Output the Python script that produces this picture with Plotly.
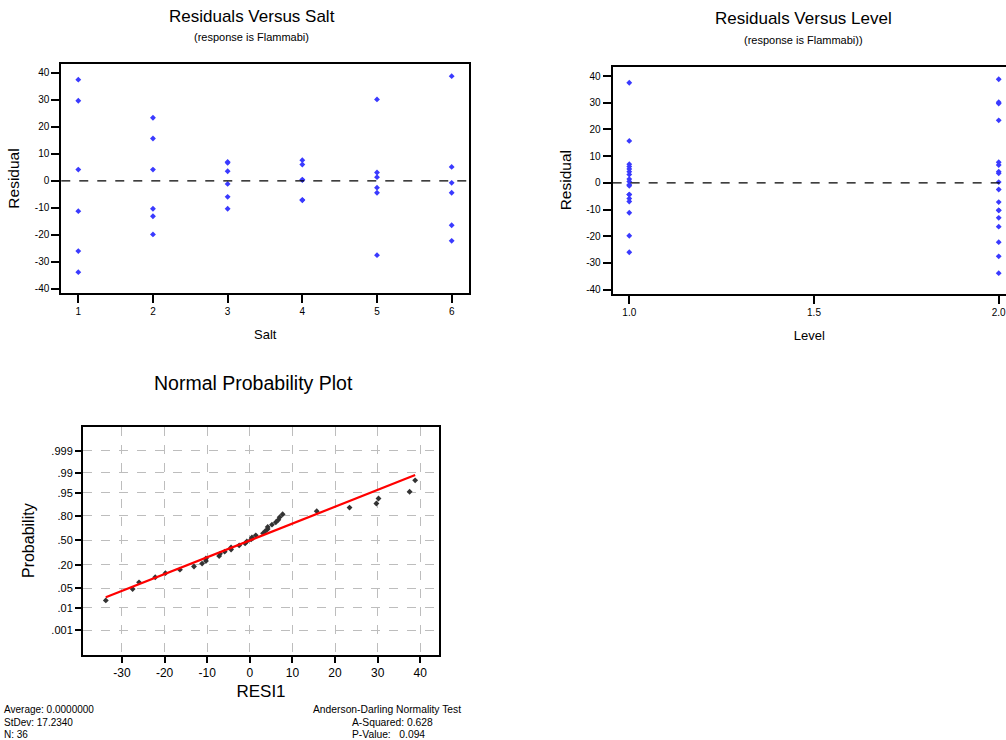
from statistics import NormalDist

import plotly.graph_objects as go

# Residuals of the Flammability model (Salt + Level), 3 replicates per cell
salt = [1, 1, 1, 1, 1, 1,
        2, 2, 2, 2, 2, 2,
        3, 3, 3, 3, 3, 3,
        4, 4, 4, 4, 4, 4,
        5, 5, 5, 5, 5, 5,
        6, 6, 6, 6, 6, 6]
level = [1, 1, 1, 2, 2, 2] * 6
resid = [37.5, -11.2, -26.0, 29.7, 4.2, -33.8,
         15.7, 4.2, -19.8, 23.4, -10.3, -13.1,
         7.0, -1.1, -5.9, 6.7, 3.6, -10.3,
         6.1, 0.5, -7.0, 7.7, 0.3, -7.2,
         3.1, 1.4, -4.4, 30.2, -2.5, -27.5,
         5.2, -0.7, -4.4, 38.8, -16.4, -22.2]

# Summary statistics printed under the probability plot
avg_val = 0.0
sd_val = 17.2340
n_val = 36
a_sq = 0.628
p_val = 0.094

prob_ticks = [0.001, 0.01, 0.05, 0.20, 0.50, 0.80, 0.95, 0.99, 0.999]
prob_labels = [".001", ".01", ".05", ".20", ".50", ".80", ".95", ".99", ".999"]
resid_ticks = [-40, -30, -20, -10, 0, 10, 20, 30, 40]
resi1_ticks = [-30, -20, -10, 0, 10, 20, 30, 40]

FONT = "Liberation Sans, Arial, sans-serif"
BLUE = "#3a3aff"
nd = NormalDist()

# Normal scores using median-rank plotting positions
sorted_res = sorted(resid)
n = len(sorted_res)
z_scores = [nd.inv_cdf((i + 1 - 0.3) / (n + 0.4)) for i in range(n)]
line_x = [sorted_res[0], sorted_res[-1]]
line_z = [(v - avg_val) / sd_val for v in line_x]


def hyphen_labels(vals):
    # plain hyphen for negatives, as in the original output
    return [str(v) for v in vals]


fig = go.Figure()

marker_blue = dict(symbol="diamond", size=4.5, color=BLUE, line=dict(width=0))

fig.add_trace(go.Scatter(x=salt, y=resid, mode="markers", marker=marker_blue,
                         xaxis="x", yaxis="y", showlegend=False))
fig.add_trace(go.Scatter(x=level, y=resid, mode="markers", marker=marker_blue,
                         xaxis="x2", yaxis="y2", showlegend=False))
fig.add_trace(go.Scatter(x=sorted_res, y=z_scores, mode="markers",
                         marker=dict(symbol="diamond", size=4.5, color="#333333"),
                         xaxis="x3", yaxis="y3", showlegend=False))
fig.add_trace(go.Scatter(x=line_x, y=line_z, mode="lines",
                         line=dict(color="#ff0000", width=2.2),
                         xaxis="x3", yaxis="y3", showlegend=False))

axis_common = dict(showline=True, linecolor="black", linewidth=2,
                   ticks="outside", ticklen=8, tickwidth=1.5, tickcolor="black",
                   showgrid=False, zeroline=False,
                   tickfont=dict(family=FONT, size=10, color="black"))

layout_axes = dict(
    xaxis=dict(axis_common, domain=[0.0609, 0.4665], range=[0.772, 6.236],
               tickvals=[1, 2, 3, 4, 5, 6], mirror=True, anchor="y",
               title=dict(text="Salt", font=dict(family=FONT, size=13), standoff=14)),
    yaxis=dict(axis_common, domain=[0.6041, 0.9135], range=[-41.5, 43.3],
               tickvals=resid_ticks, ticktext=hyphen_labels(resid_ticks),
               mirror=True, anchor="x",
               title=dict(text="Residual", font=dict(family=FONT, size=15.5), standoff=11)),
    xaxis2=dict(axis_common, domain=[0.609, 1.0], range=[0.955, 2.0197],
                tickvals=[1.0, 1.5, 2.0], ticktext=["1.0", "1.5", "2.0"],
                mirror=True, anchor="y2", ticklabeloverflow="allow",
                title=dict(text="Level", font=dict(family=FONT, size=13), standoff=14)),
    yaxis2=dict(axis_common, domain=[0.6031, 0.9099], range=[-41.5, 43.5],
                tickvals=resid_ticks, ticktext=hyphen_labels(resid_ticks),
                mirror=False, anchor="x2",
                title=dict(text="Residual", font=dict(family=FONT, size=15.5), standoff=11)),
    xaxis3=dict(axis_common, domain=[0.0825, 0.4364], range=[-39.15, 44.4],
                tickvals=resi1_ticks, ticktext=hyphen_labels(resi1_ticks),
                mirror=True, anchor="y3",
                ticklen=6, showgrid=True, gridcolor="#bdbdbd", griddash="dash",
                gridwidth=1, tickfont=dict(family=FONT, size=12, color="black"),
                title=dict(text="RESI1", font=dict(family=FONT, size=17), standoff=6)),
    yaxis3=dict(axis_common, domain=[0.1153, 0.4234], range=[-3.94, 3.92],
                tickvals=[nd.inv_cdf(p) for p in prob_ticks], ticktext=prob_labels,
                mirror=True, anchor="x3", ticklen=6, showgrid=True,
                gridcolor="#bdbdbd", griddash="dash", gridwidth=1,
                tickfont=dict(family=FONT, size=11, color="black"),
                title=dict(text="Probability", font=dict(family=FONT, size=16), standoff=13)),
)

fig.update_layout(
    width=1006, height=740,
    margin=dict(l=0, r=0, t=0, b=0),
    paper_bgcolor="white", plot_bgcolor="white",
    font=dict(family=FONT, color="black"),
    **layout_axes,
)

# Zero reference lines on both residual plots
for xr, yr in (("x domain", "y"), ("x2 domain", "y2")):
    fig.add_shape(type="line", xref=xr, yref=yr, x0=0, x1=1, y0=0, y1=0,
                  line=dict(color="black", width=1.2, dash="dash"))


def add_text(txt, x, y, size, xanchor="center", yanchor="middle"):
    fig.add_annotation(text=txt, x=x, y=y, xref="paper", yref="paper",
                       xanchor=xanchor, yanchor=yanchor, showarrow=False,
                       font=dict(family=FONT, size=size, color="black"))


W, H = 1006.0, 740.0
# Titles
add_text("Residuals Versus Salt", 252 / W, 1 - 16 / H, 17)
add_text("(response is Flammabi)", 252 / W, 1 - 37 / H, 11)
add_text("Residuals Versus Level", 803 / W, 1 - 19 / H, 17)
add_text("(response is Flammabi))", 803 / W, 1 - 40 / H, 11)
add_text("Normal Probability Plot", 253 / W, 1 - 383 / H, 19.5)

# Statistics beneath the probability plot
add_text(f"Average: {avg_val:.7f}", 2 / W, 1 - 709 / H, 10, xanchor="left")
add_text(f"StDev: {sd_val:.4f}", 2 / W, 1 - 722 / H, 10, xanchor="left")
add_text(f"N: {n_val}", 2 / W, 1 - 734 / H, 10, xanchor="left")
add_text("Anderson-Darling Normality Test", 463 / W, 1 - 709 / H, 10.3, xanchor="right")
add_text(f"A-Squared: {a_sq:.3f}", 350 / W, 1 - 722 / H, 10.3, xanchor="left")
add_text(f"P-Value:   {p_val:.3f}", 350 / W, 1 - 734 / H, 10.3, xanchor="left")

fig.write_html("out.html")
